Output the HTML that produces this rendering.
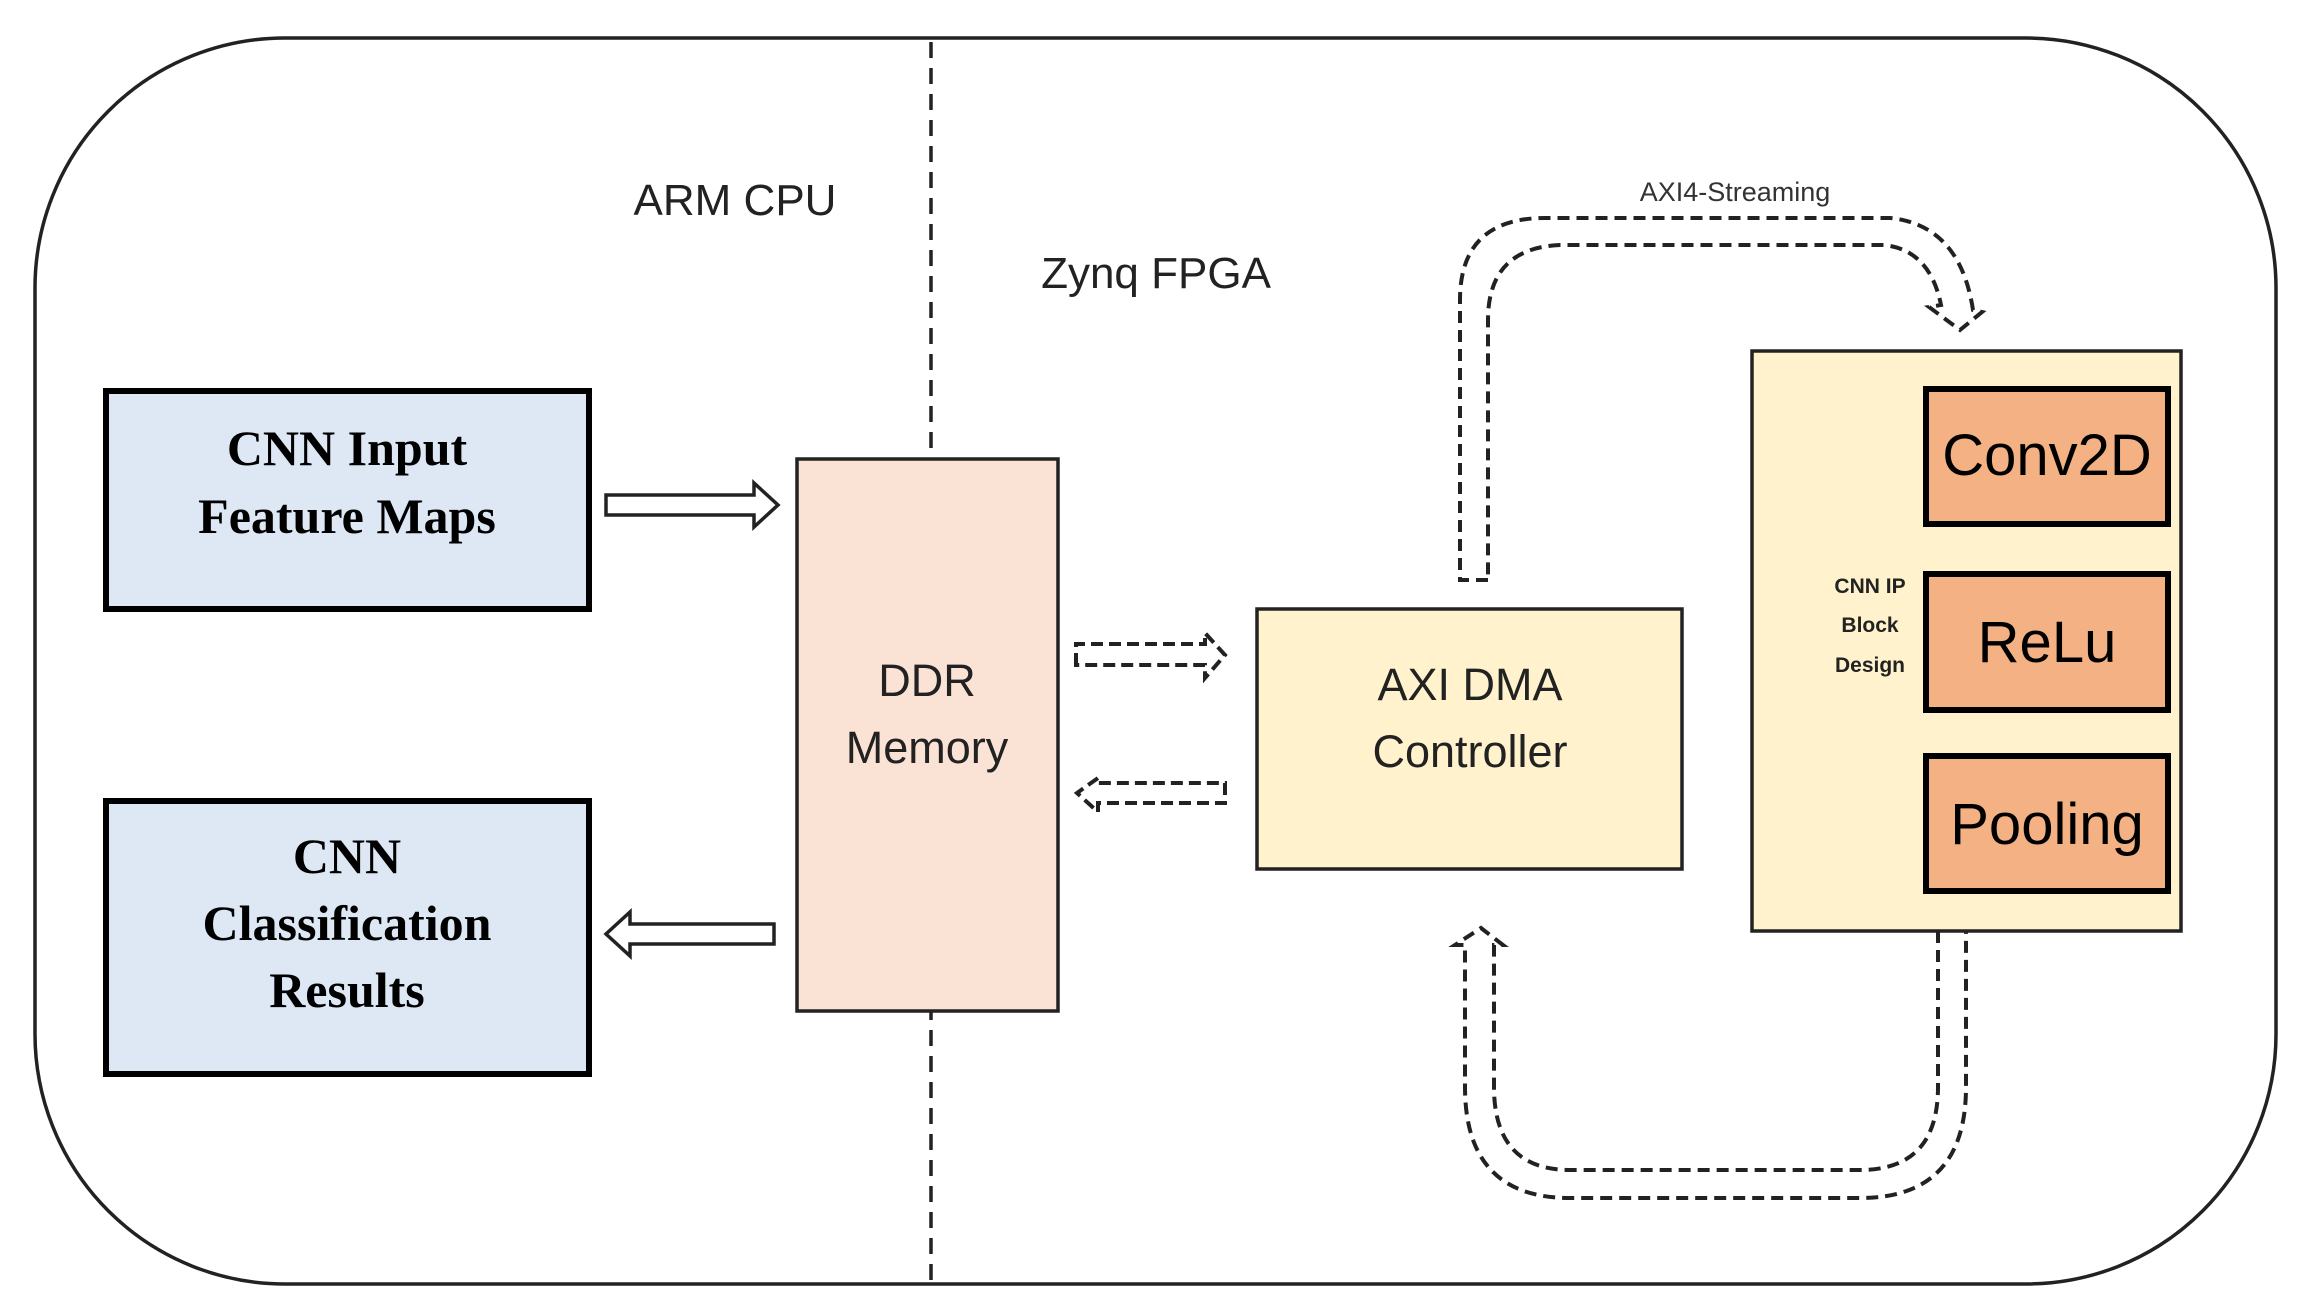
<!DOCTYPE html>
<html><head><meta charset="utf-8"><style>
html,body{margin:0;padding:0;background:#fff}
svg{display:block}
</style></head><body>
<svg width="2302" height="1311" viewBox="0 0 2302 1311" xmlns="http://www.w3.org/2000/svg">
<rect x="35" y="38" width="2241" height="1246" rx="250" ry="250" fill="#fff" stroke="#222" stroke-width="3.5"/>
<line x1="931" y1="42" x2="931" y2="1280" stroke="#222" stroke-width="3.5" stroke-dasharray="16 10"/>
<g font-family="Liberation Sans, sans-serif" fill="#222">
<text x="735" y="215" font-size="44" text-anchor="middle">ARM CPU</text>
<text x="1156" y="288" font-size="44" text-anchor="middle">Zynq FPGA</text>
</g>
<rect x="106" y="391" width="483" height="218" fill="#dde8f4" stroke="#000" stroke-width="6"/>
<rect x="106" y="801" width="483" height="273" fill="#dde8f4" stroke="#000" stroke-width="6"/>
<g font-family="Liberation Serif, serif" font-weight="bold" font-size="50" text-anchor="middle" fill="#000">
<text x="347" y="465">CNN Input</text>
<text x="347" y="533">Feature Maps</text>
<text x="347" y="873">CNN</text>
<text x="347" y="940">Classification</text>
<text x="347" y="1007">Results</text>
</g>
<rect x="797" y="459" width="261" height="552" fill="#fae3d5" stroke="#222" stroke-width="3.5"/>
<g font-family="Liberation Sans, sans-serif" font-size="45" text-anchor="middle" fill="#222">
<text x="927" y="696">DDR</text>
<text x="927" y="763">Memory</text>
</g>
<path d="M606 495 H754 V483 L778 505 L754 527 V515 H606 Z" fill="#fff" stroke="#222" stroke-width="3.5"/>
<path d="M774 924 H630 V912 L606 934 L630 956 V944 H774 Z" fill="#fff" stroke="#222" stroke-width="3.5"/>
<g fill="none" stroke="#222" stroke-width="4" stroke-dasharray="12 6">
<path d="M1076 665 V644 H1205 V633 L1225 655 L1205 678 V665 Z"/>
<path d="M1225 783 V803 H1098 V812 L1077 793 L1098 778 V783 Z"/>
</g>
<rect x="1257" y="609" width="425" height="260" fill="#fff2cc" stroke="#222" stroke-width="3.5"/>
<g font-family="Liberation Sans, sans-serif" font-size="45" text-anchor="middle" fill="#222">
<text x="1470" y="700">AXI DMA</text>
<text x="1470" y="767">Controller</text>
</g>
<rect x="1752" y="351" width="429" height="580" fill="#fff2cc" stroke="#222" stroke-width="3.5"/>
<g fill="#f4b183" stroke="#000" stroke-width="6">
<rect x="1926" y="389" width="242" height="135"/>
<rect x="1926" y="574" width="242" height="136"/>
<rect x="1926" y="756" width="242" height="135"/>
</g>
<g font-family="Liberation Sans, sans-serif" font-size="58" text-anchor="middle" fill="#000">
<text x="2047" y="475">Conv2D</text>
<text x="2047" y="662">ReLu</text>
<text x="2047" y="844">Pooling</text>
</g>
<g font-family="Liberation Sans, sans-serif" font-size="21" font-weight="bold" text-anchor="middle" fill="#222">
<text x="1870" y="593">CNN IP</text>
<text x="1870" y="632">Block</text>
<text x="1870" y="672">Design</text>
</g>
<text x="1735" y="201" font-family="Liberation Sans, sans-serif" font-size="27" text-anchor="middle" fill="#333">AXI4-Streaming</text>
<g fill="none" stroke="#222" stroke-width="4" stroke-dasharray="12 7">
<path d="M1488 580 H1460 V300 Q1460 218 1545 218 H1890 Q1960 225 1973 310 L1982 312 L1960 330 L1929 307 L1941 305 Q1930 250 1884 245 H1560 Q1488 248 1488 320 Z"/>
<path d="M1938 931 V1087 Q1938 1170 1860 1170 H1570 Q1494 1170 1494 1087 V945 L1503 945 L1481 928 L1455 945 L1465 945 V1087 Q1465 1198 1570 1198 H1860 Q1966 1198 1966 1087 V931"/>
</g>
</svg>
</body></html>
